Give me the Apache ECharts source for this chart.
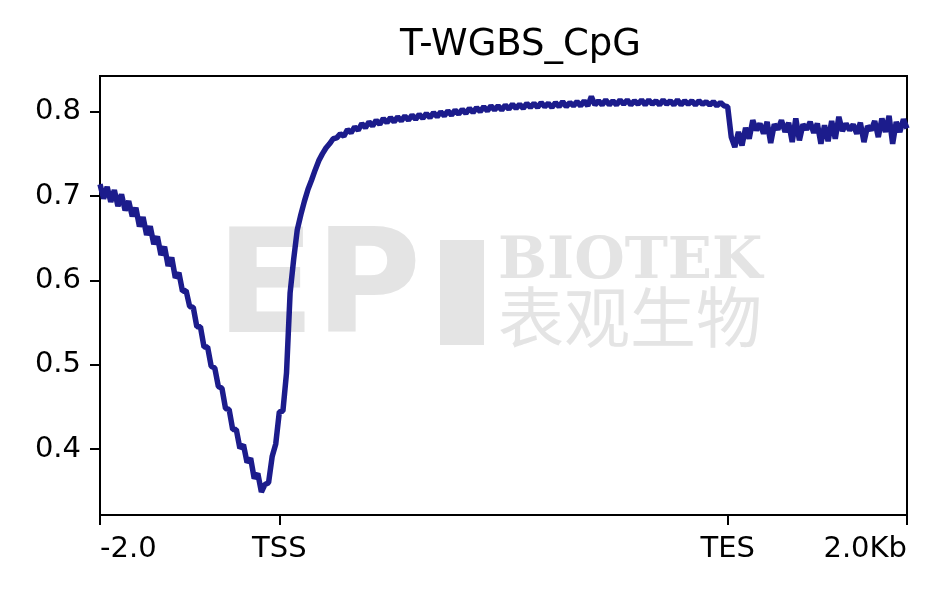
<!DOCTYPE html>
<html>
<head>
<meta charset="utf-8">
<script src="https://cdn.jsdelivr.net/npm/echarts@6/dist/echarts.min.js"></script>
<style>
  html, body { margin: 0; padding: 0; background: #fff; }
  #myChart { width: 942px; height: 599px; }
</style>
</head>
<body>
<div id="myChart"></div>
<script>
// bins are 40bp wide; upstream -2kb..TSS, scaled gene body TSS..TES (5000 units), downstream TES..+2kb
const binWidth = 40
const tssPos = 0
const tesPos = 5000

const upstream = [
    0.714, 0.697, 0.711, 0.693, 0.707, 0.688, 0.702, 0.683, 0.694, 0.676,
    0.686, 0.664, 0.675, 0.654, 0.664, 0.643, 0.652, 0.630, 0.640, 0.617,
    0.627, 0.603, 0.609, 0.587, 0.588, 0.569, 0.568, 0.545, 0.545, 0.521,
    0.521, 0.498, 0.496, 0.474, 0.472, 0.448, 0.447, 0.423, 0.423, 0.401,
    0.405, 0.384, 0.389, 0.365, 0.371, 0.349, 0.358, 0.360, 0.391, 0.406,
    0.444
]
const geneBody = [
    0.445, 0.490, 0.585, 0.625, 0.660, 0.678, 0.694, 0.708, 0.719, 0.731,
    0.742, 0.750, 0.757, 0.762, 0.768, 0.769, 0.774, 0.771, 0.779, 0.775,
    0.782, 0.778, 0.786, 0.781, 0.788, 0.783, 0.790, 0.785, 0.792, 0.787,
    0.793, 0.788, 0.794, 0.789, 0.795, 0.790, 0.796, 0.791, 0.797, 0.792,
    0.798, 0.793, 0.799, 0.794, 0.800, 0.795, 0.801, 0.796, 0.802, 0.797,
    0.803, 0.798, 0.804, 0.799, 0.805, 0.800, 0.806, 0.801, 0.807, 0.802,
    0.807, 0.802, 0.808, 0.803, 0.809, 0.804, 0.809, 0.804, 0.810, 0.805,
    0.810, 0.805, 0.811, 0.806, 0.810, 0.805, 0.811, 0.806, 0.812, 0.806,
    0.811, 0.807, 0.812, 0.807, 0.813, 0.807, 0.818, 0.808, 0.813, 0.808,
    0.814, 0.808, 0.813, 0.808, 0.814, 0.809, 0.814, 0.808, 0.813, 0.809,
    0.814, 0.808, 0.814, 0.809, 0.813, 0.808, 0.814, 0.809, 0.813, 0.808,
    0.814, 0.808, 0.813, 0.809, 0.813, 0.808, 0.813, 0.809, 0.812, 0.808,
    0.812, 0.807, 0.811, 0.807, 0.806
]
const downstream = [
    0.770, 0.758, 0.776, 0.760, 0.781, 0.768, 0.790, 0.778, 0.786, 0.774,
    0.788, 0.763, 0.785, 0.779, 0.790, 0.776, 0.787, 0.764, 0.792, 0.766,
    0.785, 0.779, 0.788, 0.775, 0.786, 0.762, 0.784, 0.765, 0.789, 0.768,
    0.794, 0.777, 0.786, 0.778, 0.785, 0.774, 0.787, 0.764, 0.783, 0.778,
    0.789, 0.770, 0.792, 0.776, 0.795, 0.762, 0.788, 0.776, 0.791, 0.780
]

const xTicks = [-2000, tssPos, tesPos, 7000]
const xTickLabels = ['-2.0', 'TSS', 'TES', '2.0Kb']
const yTicks = [0.4, 0.5, 0.6, 0.7, 0.8]

const points = []
upstream.forEach((v, i) => points.push([-2000 + i * binWidth, v]))
geneBody.forEach((v, i) => points.push([tssPos + (i + 1) * binWidth, v]))
downstream.forEach((v, i) => points.push([tesPos + (i + 1) * binWidth, v]))

const tickFont = 'DejaVu Sans'
const markColor = '#e4e4e4'

const myChart = echarts.init(document.getElementById('myChart'))
myChart.setOption({
    animation: false,
    title: {
        text: 'T-WGBS_CpG',
        left: 395,
        top: 22,
        textStyle: { fontFamily: tickFont, fontSize: 37, fontWeight: 'normal', color: '#000' }
    },
    grid: {
        left: 100, right: 35, top: 76, bottom: 84,
        show: true, borderColor: '#000', borderWidth: 2
    },
    graphic: [
        // faded logo behind the curve
        { type: 'text', z: -10, left: 216, top: 222, style: { text: 'EP', fill: markColor, font: 'bold 145px "DejaVu Sans"' } },
        { type: 'rect', z: -10, shape: { x: 440, y: 240, width: 44, height: 105 }, style: { fill: markColor } },
        { type: 'text', z: -10, left: 498, top: 234, style: { text: 'BIOTEK', fill: markColor, font: 'bold 58px "DejaVu Serif"' } },
        { type: 'text', z: -10, left: 498, top: 284, style: { text: '表观生物', fill: markColor, font: '66px "Noto Sans CJK SC"' } }
    ],
    xAxis: {
        type: 'value',
        min: -2000,
        max: 7000,
        axisLine: { lineStyle: { color: '#000', width: 2 } },
        axisTick: { customValues: xTicks, length: 10, lineStyle: { color: '#000', width: 2 } },
        axisLabel: {
            customValues: xTicks,
            margin: 20,
            color: '#000',
            fontFamily: tickFont,
            fontSize: 29,
            alignMinLabel: 'left',
            alignMaxLabel: 'right',
            formatter: function (value) {
                return xTickLabels[xTicks.indexOf(value)]
            }
        },
        splitLine: { show: false }
    },
    yAxis: {
        type: 'value',
        min: 0.3217,
        max: 0.8424,
        axisLine: { show: true, onZero: false, lineStyle: { color: '#000', width: 2 } },
        axisTick: { show: true, customValues: yTicks, length: 10, lineStyle: { color: '#000', width: 2 } },
        axisLabel: {
            customValues: yTicks,
            margin: 19,
            color: '#000',
            fontFamily: tickFont,
            fontSize: 29,
            formatter: function (value) { return value.toFixed(1) }
        },
        splitLine: { show: false }
    },
    series: [{
        type: 'line',
        data: points,
        showSymbol: false,
        z: 5,
        lineStyle: { color: '#1c1c8c', width: 5.5 }
    }]
})
</script>
</body>
</html>
